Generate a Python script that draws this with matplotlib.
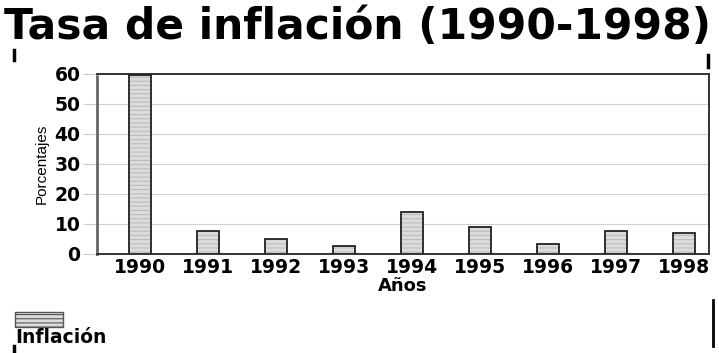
import matplotlib.pyplot as plt
from matplotlib.patches import Rectangle
from matplotlib.lines import Line2D

plt.rcParams['font.family'] = ['DejaVu Sans']
plt.rcParams['hatch.color'] = '#bdbdbd'
plt.rcParams['hatch.linewidth'] = 0.8

# Datos
anios = ['1990', '1991', '1992', '1993', '1994', '1995', '1996', '1997', '1998']
inflacion = [59.5, 7.8, 5.0, 2.6, 13.9, 8.9, 3.3, 7.7, 7.1]
ticks_y = [0, 10, 20, 30, 40, 50, 60]

fig = plt.figure(figsize=(7.19, 3.53), dpi=100)
ax = fig.add_axes([0.135, 0.2805, 0.851, 0.51])

posiciones = range(len(anios))
# relleno con textura suave + contorno oscuro
ax.bar(posiciones, inflacion, width=0.32, color='#dcdcdc', edgecolor='#bdbdbd',
       linewidth=0, hatch='----', zorder=3)
ax.bar(posiciones, inflacion, width=0.32, fill=False, edgecolor='#222222',
       linewidth=1.3, zorder=4)

ax.set_xlim(-0.63, 8.37)
ax.set_ylim(0, 60)
ax.set_yticks(ticks_y)
ax.set_xticks(list(posiciones))
ax.set_xticklabels(anios, fontsize=13.5, fontweight='bold')
ax.set_yticklabels([str(t) for t in ticks_y], fontsize=13.5, fontweight='bold')
ax.tick_params(axis='y', length=10, color='#cccccc', pad=2)
ax.tick_params(axis='x', length=0, pad=3)

ax.yaxis.grid(True, color='#d0d0d0', linewidth=0.8, zorder=0)

for lado in ['top', 'bottom', 'right']:
    ax.spines[lado].set_color('#333333')
    ax.spines[lado].set_linewidth(1.4)
ax.spines['left'].set_color('#666666')
ax.spines['left'].set_linewidth(2.0)
ax.spines['left'].set_linestyle((0, (4, 1)))

ax.set_ylabel('Porcentajes', fontsize=11, family=['Liberation Sans', 'DejaVu Sans'],
              labelpad=4)
ax.set_xlabel('Años', fontsize=13, fontweight='bold', labelpad=0)

fig.text(0.006, 0.982, 'Tasa de inflación (1990-1998)', fontsize=30.5,
         fontweight='bold', va='top', ha='left')

# Leyenda
fig.patches.append(Rectangle((0.021, 0.074), 0.067, 0.042, transform=fig.transFigure,
                             facecolor='#dcdcdc', edgecolor='#555555', hatch='----',
                             linewidth=1.0))
fig.text(0.021, 0.071, 'Inflación', fontsize=13.5, fontweight='bold', va='top', ha='left')

# Marcas de escaneo
fig.lines.append(Line2D([0.019, 0.019], [0.83, 0.858], color='black', lw=2.5,
                        transform=fig.transFigure))
fig.lines.append(Line2D([0.985, 0.985], [0.81, 0.845], color='black', lw=2.5,
                        transform=fig.transFigure))
fig.lines.append(Line2D([0.991, 0.991], [0.02, 0.15], color='black', lw=2,
                        transform=fig.transFigure))
fig.lines.append(Line2D([0.019, 0.019], [0.0, 0.02], color='black', lw=2.5,
                        transform=fig.transFigure))

fig.savefig('out.png', dpi=100)
